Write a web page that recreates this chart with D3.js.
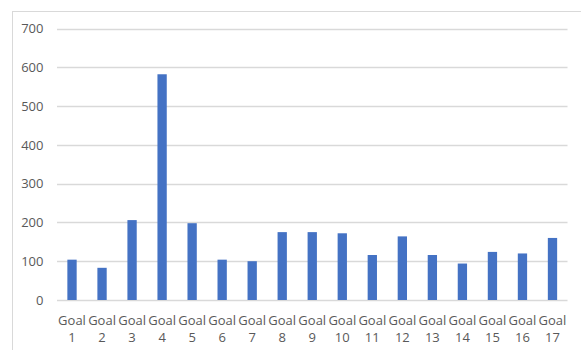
<!DOCTYPE html>
<html>
<head>
<meta charset="utf-8">
<script src="https://cdn.jsdelivr.net/npm/d3@7"></script>
<style>
  html, body { margin: 0; padding: 0; background: #fff; }
  svg { display: block; }
</style>
</head>
<body>
<svg id="chart" width="581" height="350"></svg>
<script>
// Number of items per goal
const goals = ["Goal 1","Goal 2","Goal 3","Goal 4","Goal 5","Goal 6","Goal 7","Goal 8","Goal 9",
               "Goal 10","Goal 11","Goal 12","Goal 13","Goal 14","Goal 15","Goal 16","Goal 17"];
const counts = [104, 83, 206, 582, 198, 104, 100, 175, 175, 172, 116, 164, 116, 94, 124, 120, 160];
const yTicks = [0, 100, 200, 300, 400, 500, 600, 700];

const svg = d3.select("#chart");
const plot = { left: 57, right: 567.5, top: 28.5, bottom: 300 };
const labelFont = "'Open Sans', 'Liberation Sans', Arial, sans-serif";

// Chart area frame (only the top and left edges fall inside the view)
svg.append("rect")
  .attr("x", 12.5).attr("y", 11.5)
  .attr("width", 600).attr("height", 400)
  .attr("fill", "#fff")
  .attr("stroke", "#d9d9d9").attr("stroke-width", 1);

const x = d3.scaleBand()
  .domain(goals)
  .range([plot.left, plot.right])
  .paddingInner(0.69)
  .paddingOuter(0.345);

const y = d3.scaleLinear()
  .domain([0, 700])
  .range([plot.bottom, plot.top]);

// Horizontal gridlines
svg.append("g")
  .selectAll("line")
  .data(yTicks)
  .join("line")
  .attr("x1", plot.left).attr("x2", plot.right)
  .attr("y1", d => Math.round(y(d)) + 0.5)
  .attr("y2", d => Math.round(y(d)) + 0.5)
  .attr("stroke", "#d9d9d9").attr("stroke-width", 1.3);

// Y axis labels
const yAxis = d3.axisLeft(y).tickValues(yTicks).tickSize(0).tickPadding(0);
const gy = svg.append("g").attr("transform", `translate(${43.5},0)`).call(yAxis);
gy.select(".domain").remove();
gy.selectAll("text")
  .attr("fill", "#595959")
  .style("font-family", labelFont)
  .style("font-size", "13px");

// Bars
svg.append("g")
  .selectAll("rect")
  .data(counts)
  .join("rect")
  .attr("x", (d, i) => x(goals[i]))
  .attr("width", x.bandwidth())
  .attr("y", d => y(d))
  .attr("height", d => y(0) - y(d))
  .attr("fill", "#4472c4");

// Category labels on two lines
const xAxis = d3.axisBottom(x).tickSize(0).tickPadding(0);
const gx = svg.append("g").attr("transform", `translate(0,${plot.bottom})`).call(xAxis);
gx.select(".domain").remove();
gx.selectAll(".tick text")
  .attr("fill", "#595959")
  .style("font-family", labelFont)
  .style("font-size", "13px")
  .attr("y", 0).attr("dy", null)
  .each(function(d) {
    const parts = d.split(" ");
    const t = d3.select(this).text(null);
    t.append("tspan").attr("x", 0).attr("y", 25).text(parts[0]);
    t.append("tspan").attr("x", 0).attr("y", 41.5).text(parts[1]);
  });
</script>
</body>
</html>
